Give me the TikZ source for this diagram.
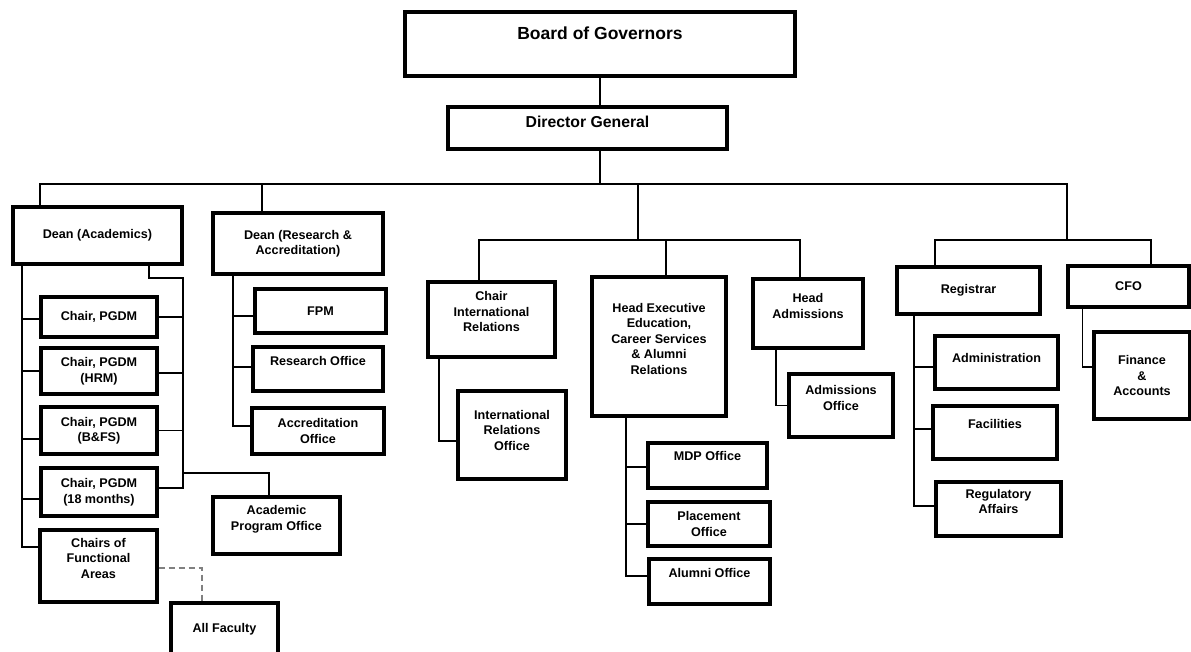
\documentclass[tikz,border=0pt]{standalone}
\usepackage{fontspec}
\setmainfont{Liberation Sans}

\begin{document}
\begin{tikzpicture}[
    x=1pt, y=-1pt,
    box/.style={rectangle, draw=black, line width=3.2pt, fill=white, align=center,
        inner sep=2pt, font=\bfseries\fontsize{12.6}{15.5}\selectfont},
    sz/.style 2 args={minimum width=#1pt, minimum height=#2pt},
    link/.style={line width=1.8pt, -},
    dashlink/.style={line width=1.6pt, draw=gray, dash pattern=on 6pt off 4pt}
]
    \useasboundingbox (0,0) rectangle (1191,652);

    % top
    \node[box, sz={390}{64}, font=\bfseries\fontsize{17.5}{21}\selectfont] (bog) at (600,44) {Board of Governors\\~};
    \node[box, sz={279}{42}, font=\bfseries\fontsize{15.8}{19}\selectfont] (dg) at (587.5,128) {Director General\\[-6pt]~};

    % academics
    \node[box, sz={169}{57}] (dacad) at (97.5,235.5) {Dean (Academics)};
    \node[box, sz={116}{40}] (cpgdm) at (99,317) {Chair, PGDM};
    \node[box, sz={116}{46}] (chrm) at (99,371) {Chair, PGDM\\(HRM)};
    \node[box, sz={116}{47}] (cbfs) at (99,430.5) {Chair, PGDM\\(B\&FS)};
    \node[box, sz={116}{48}] (c18) at (99,492) {Chair, PGDM\\(18 months)};
    \node[box, sz={117}{72}] (cfa) at (98.5,566) {Chairs of\\Functional\\Areas\\~};
    \node[box, sz={127}{57}] (apo) at (276.5,525.5) {Academic\\Program Office\\~};
    \node[box, sz={107}{53}] (allf) at (224.5,629.5) {All Faculty};

    % research
    \node[box, sz={170}{61}] (dres) at (298,243.5) {Dean (Research \&\\Accreditation)};
    \node[box, sz={131}{44}] (fpm) at (320.5,311) {FPM};
    \node[box, sz={130}{44}] (reso) at (318,369) {Research Office\\~};
    \node[box, sz={132}{46}] (accr) at (318,431) {Accreditation\\Office};

    % middle
    \node[box, sz={127}{75}] (cir) at (491.5,319.5) {Chair\\International\\Relations\\~};
    \node[box, sz={108}{88}] (iro) at (512,435) {International\\Relations\\Office\\[-6pt]~};
    \node[box, sz={134}{139}] (hee) at (659,346.5) {Head Executive\\Education,\\Career Services\\\& Alumni\\Relations\\~};
    \node[box, sz={119}{45}] (mdp) at (707.5,465.5) {MDP Office\\[3pt]~};
    \node[box, sz={122}{44}] (plc) at (709,524) {Placement\\Office};
    \node[box, sz={121}{45}] (alum) at (709.5,581.5) {Alumni Office\\[2pt]~};
    \node[box, sz={110}{69}] (hadm) at (808,313.5) {Head\\Admissions\\~};
    \node[box, sz={104}{63}] (admo) at (841,405.5) {Admissions\\Office\\~};

    % registrar and cfo
    \node[box, sz={143}{47}] (reg) at (968.5,290.5) {Registrar};
    \node[box, sz={121}{41}] (cfo) at (1128.5,286.5) {CFO};
    \node[box, sz={123}{53}] (admn) at (996.5,362.5) {Administration\\[-6pt]~};
    \node[box, sz={124}{53}] (fac) at (995,432.5) {Facilities\\[2pt]~};
    \node[box, sz={125}{54}] (rega) at (998.5,509) {Regulatory\\Affairs\\~};
    \node[box, sz={96}{87}] (fin) at (1142,375.5) {Finance\\\&\\Accounts};

    % buses
    \coordinate (busL) at (40,184);
    \coordinate (busR) at (1067,184);
    \coordinate (midJ) at (638,184);
    \coordinate (midbus) at (638,240);
    \coordinate (rbus) at (1067,240);
    \coordinate (acadtrunk) at ([xshift=-75.5pt]dacad.south);
    \coordinate (acadR) at (183,278);
    \coordinate (apoJ) at (183,473);
    \coordinate (restrunk) at ([xshift=-65pt]dres.south);
    \coordinate (heetrunk) at ([xshift=-33pt]hee.south);
    \coordinate (regtrunk) at ([xshift=-54.5pt]reg.south);

    \draw[link] (bog.south) -- (bog.south |- dg.north);
    \draw[link] (bog.south |- dg.south) -- (bog.south |- busL);
    \draw[link] (dacad.north -| busL) -- (busL) -- (busR) -- (rbus);
    \draw[link] ([xshift=-36pt]dres.north) -- ([xshift=-36pt]dres.north |- busL);
    \draw[link] (midJ) -- (midbus);
    \draw[link] ([xshift=-12.5pt]cir.north) |- ([xshift=-8pt]hadm.north |- midbus) -- ([xshift=-8pt]hadm.north);
    \draw[link] ([xshift=7pt]hee.north) -- ([xshift=7pt]hee.north |- midbus);
    \draw[link] ([xshift=-33.5pt]reg.north) |- ([xshift=22.5pt]cfo.north |- rbus) -- ([xshift=22.5pt]cfo.north);

    % dean academics
    \draw[link] (acadtrunk) |- ([yshift=19pt]cfa.west);
    \draw[link] ([yshift=-2pt]cpgdm.west) -- ([yshift=-2pt]cpgdm.west -| acadtrunk);
    \draw[link] (chrm.west) -- (chrm.west -| acadtrunk);
    \draw[link] ([yshift=-8.5pt]cbfs.west) -- ([yshift=-8.5pt]cbfs.west -| acadtrunk);
    \draw[link] ([yshift=-7pt]c18.west) -- ([yshift=-7pt]c18.west -| acadtrunk);
    \draw[link] ([xshift=51.5pt]dacad.south) |- (acadR) -- ([yshift=4pt]c18.east -| acadR) -- ([yshift=4pt]c18.east);
    \draw[link] (cpgdm.east) -- (cpgdm.east -| acadR);
    \draw[link] ([yshift=-2pt]chrm.east) -- ([yshift=-2pt]chrm.east -| acadR);
    \draw[link] (cbfs.east) -- (cbfs.east -| acadR);
    \draw[link] (apoJ) -| ([xshift=-7.5pt]apo.north);
    \draw[dashlink] ([yshift=-2pt]cfa.east) -| ([xshift=-22.5pt]allf.north);

    % dean research
    \draw[link] (restrunk) |- ([yshift=5pt]accr.west);
    \draw[link] ([yshift=-5pt]fpm.west) -- ([yshift=-5pt]fpm.west -| restrunk);
    \draw[link] ([yshift=2pt]reso.west) -- ([yshift=2pt]reso.west -| restrunk);

    % middle branches
    \draw[link] ([xshift=-52.5pt]cir.south) |- ([yshift=-6pt]iro.west);
    \draw[link] (heetrunk) |- ([yshift=5.5pt]alum.west);
    \draw[link] ([yshift=-1.5pt]mdp.west) -- ([yshift=-1.5pt]mdp.west -| heetrunk);
    \draw[link] (plc.west) -- (plc.west -| heetrunk);
    \draw[link] ([xshift=-32pt]hadm.south) |- (admo.west);

    % registrar and cfo branches
    \draw[link] (regtrunk) |- ([yshift=3pt]rega.west);
    \draw[link] ([yshift=-4.5pt]admn.west) -- ([yshift=-4.5pt]admn.west -| regtrunk);
    \draw[link] ([yshift=3.5pt]fac.west) -- ([yshift=3.5pt]fac.west -| regtrunk);
    \draw[link] ([xshift=-46pt]cfo.south) |- ([yshift=8.5pt]fin.west);
\end{tikzpicture}
\end{document}
